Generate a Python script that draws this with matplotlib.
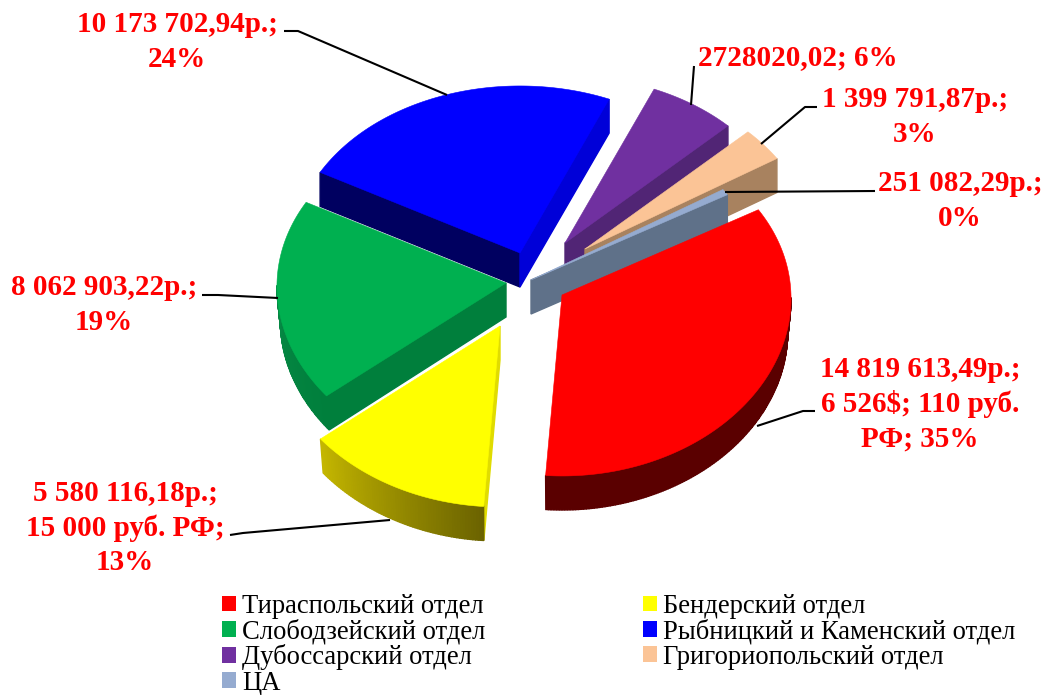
import numpy as np
import matplotlib
matplotlib.use("Agg")
import matplotlib.pyplot as plt
from matplotlib.patches import Polygon, Patch
from matplotlib.colors import to_rgb

names = ["Тираспольский отдел", "Бендерский отдел", "Слободзейский отдел",
         "Рыбницкий и Каменский отдел", "Дубоссарский отдел",
         "Григориопольский отдел", "ЦА"]
values = [14819613.49, 5580116.18, 8062903.22, 10173702.94, 2728020.02, 1399791.87, 251082.29]
labels = ["14 819 613,49р.;\n6 526$; 110 руб.\nРФ; 35%",
          "5 580 116,18р.;\n15 000 руб. РФ;\n13%",
          "8 062 903,22р.;\n19%",
          "10 173 702,94р.;\n24%",
          "2728020,02; 6%",
          "1 399 791,87р.;\n3%",
          "251 082,29р.;\n0%"]

top_colors = ["#FF0000", "#FFFF00", "#00B050", "#0000FF", "#7030A0", "#FBC496", "#95ABD0"]
start_wall = ["#5A0000", "#E0DC00", "#007F3C", "#000060", "#512575", "#A8825F", "#5F7189"]
end_wall = ["#5A0000", "#E0DC00", "#007F3C", "#0000D8", "#512575", "#A8825F", "#5F7189"]
arc_from = ["#5A0000", "#6B6300", "#007F3C", "#000060", "#512575", "#A8825F", "#5F7189"]
arc_to = ["#5A0000", "#C4B600", "#0A8F4A", "#000060", "#512575", "#A8825F", "#5F7189"]

centers = [(562, 295), (500, 326), (506, 283), (520, 253), (565, 243), (585, 249), (531, 280)]
draw_order = [4, 5, 6, 3, 2, 0, 1]
label_pos = [(920, 404), (125, 528), (104, 305), (177, 42), (798, 58), (915, 117), (960, 201)]
leaders = [[(815, 411), (803, 411), (757, 426)],
           [(230, 535), (243, 533), (390, 520)],
           [(202, 295), (218, 295), (278, 298)],
           [(284, 31), (298, 31), (447, 95)],
           [(694, 66), (691, 105)],
           [(817, 107), (805, 107), (761, 144)],
           [(875, 191), (725, 192)]]

START_ANGLE = 30.0
RX, RY, DEPTH = 229.0, 174.0, 34.0
PERSP_X, PERSP_Y = 0.02, 0.04
BOTTOM_SCALE = 0.985

fig = plt.figure(figsize=(10.45, 6.95), dpi=100)
ax = fig.add_axes([0, 0, 1, 1])
ax.set_xlim(0, 1045)
ax.set_ylim(695, 0)
ax.axis("off")

fractions = np.asarray(values) / np.sum(values)
ends = START_ANGLE - np.cumsum(fractions) * 360.0
starts = np.concatenate([[START_ANGLE], ends[:-1]])


def mix(a, b, t):
    a, b = np.array(to_rgb(a)), np.array(to_rgb(b))
    return tuple(a + (b - a) * t)


def lower(p, c):
    scale = BOTTOM_SCALE if p[1] >= c[1] - 1 else 1.0
    return np.array([c[0] + (p[0] - c[0]) * scale, p[1] + DEPTH])


def wall(p, q, inner, color, z, c):
    """Draw the vertical wall under edge p-q when it faces the viewer."""
    e = q - p
    side_in = e[0] * (inner[1] - p[1]) - e[1] * (inner[0] - p[0])
    side_down = e[0] * DEPTH
    if side_in * side_down < 0:
        pts = [p, q, lower(q, c), lower(p, c)]
        ax.add_patch(Polygon(pts, closed=True, fc=color, ec=color, lw=1.0, zorder=z))


for rank, i in enumerate(draw_order):
    z = 2 + rank
    c = np.array(centers[i], float)
    th = np.radians(np.linspace(starts[i], ends[i], max(8, int(abs(ends[i] - starts[i]) * 1.5))))
    s = np.sin(th)
    rim = np.column_stack([c[0] + RX * np.cos(th) * (1 - PERSP_X * s),
                           c[1] - RY * s * (1 - PERSP_Y * s)])
    mid = rim[len(rim) // 2]
    inner = (c + mid) / 2
    wall(c, rim[0], inner, start_wall[i], z, c)
    wall(c, rim[-1], inner, end_wall[i], z, c)
    for k in range(len(rim) - 1):
        t = k / max(1, len(rim) - 2)
        wall(rim[k], rim[k + 1], c, mix(arc_from[i], arc_to[i], t), z, c)
    ax.add_patch(Polygon(np.vstack([c, rim]), closed=True, fc=top_colors[i],
                         ec=top_colors[i], lw=0.4, zorder=z + 0.5))

for path in leaders:
    xs, ys = zip(*path)
    ax.plot(xs, ys, color="black", lw=1.5, zorder=20, solid_capstyle="butt")

for text, (x, y) in zip(labels, label_pos):
    ax.text(x, y, text, color="#FF0000", fontsize=21, fontweight="bold",
            family="Liberation Serif", ha="center", va="center", linespacing=1.34, zorder=21)

legend_order = [0, 2, 4, 6, 1, 3, 5]
handles = [Patch(fc=top_colors[i], ec="none", label=names[i]) for i in legend_order]
ax.legend(handles=handles, ncol=2, frameon=False, loc="upper left",
          bbox_to_anchor=(222 / 1045, 1 - 594 / 695), borderaxespad=0, borderpad=0,
          prop={"family": "Liberation Serif", "size": 19.2},
          handlelength=0.53, handleheight=0.53, handletextpad=0.22,
          labelspacing=0.0, columnspacing=5.9)

fig.savefig("out.png", dpi=100)
